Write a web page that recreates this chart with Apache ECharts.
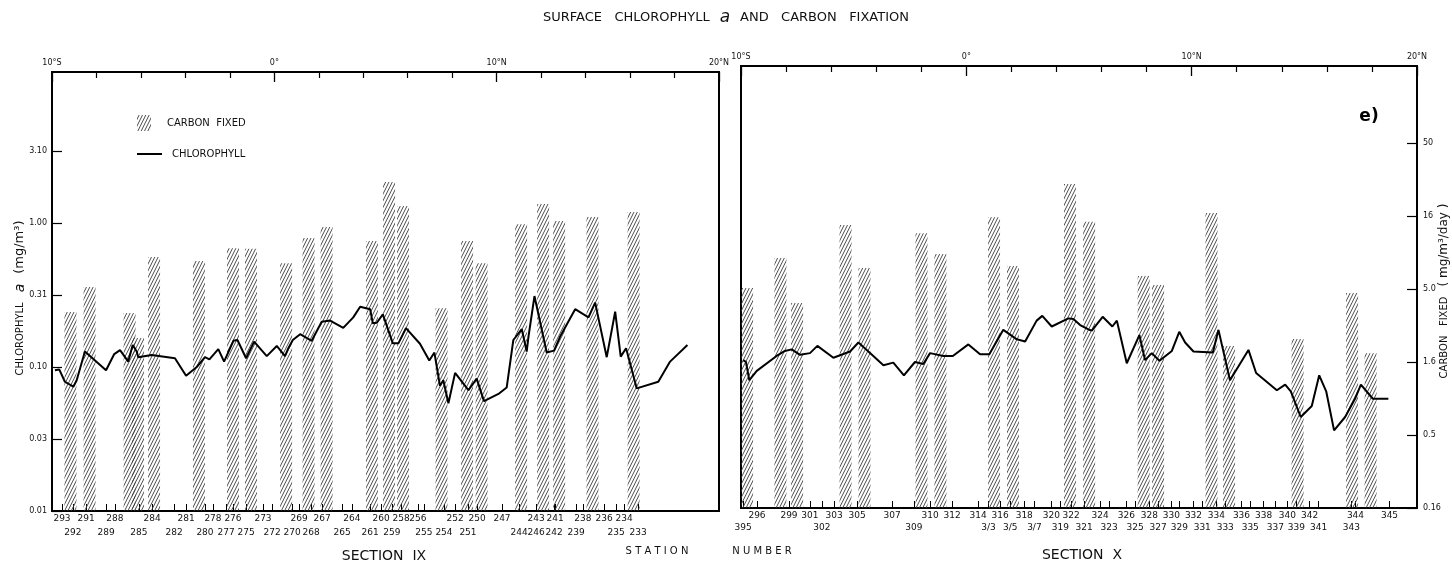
<!DOCTYPE html>
<html><head><meta charset="utf-8">
<script src="https://cdn.jsdelivr.net/npm/echarts@6/dist/echarts.min.js"></script>
<style>html,body{margin:0;padding:0;background:#fff}#c{width:1452px;height:567px}</style>
</head><body><div id="c"></div>
<script>
// ---------- tick labels ----------
const latTicks = [-10, 0, 10, 20];
const latTickLabels = ['10°S', '0°', '10°N', '20°N'];
const chlTicks = [0.01, 0.0316, 0.1, 0.316, 1, 3.16];
const chlTickLabels = ['0.01', '0.03', '0.10', '0.31', '1.00', '3.10'];
const carbonTicks = [0.16, 0.506, 1.6, 5.06, 16, 50.6];
const carbonTickLabels = ['0.16', '0.5', '1.6', '5.0', '16', '50'];

// ---------- Section IX ----------
const chlLatIX = [-9.87,-9.67,-9.42,-9.04,-8.89,-8.52,-7.57,-7.20,-6.94,-6.57,-6.49,-6.37,-6.19,-6.12,-5.52,-4.47,-3.97,-3.49,-3.12,-2.92,-2.52,-2.26,-1.84,-1.66,-1.27,-0.91,-0.34,0.11,0.48,0.63,0.83,1.16,1.68,2.13,2.51,3.10,3.55,3.86,4.31,4.43,4.61,4.88,5.33,5.58,5.92,6.55,6.97,7.20,7.45,7.60,7.83,8.13,8.73,9.10,9.43,10.08,10.45,10.75,11.13,11.35,11.43,11.70,12.25,12.58,12.85,13.53,14.13,14.43,14.95,15.33,15.58,15.82,16.30,17.27,17.80,18.58];
const chlIX = [0.095,0.096,0.079,0.073,0.081,0.128,0.095,0.123,0.131,0.109,0.107,0.142,0.128,0.117,0.121,0.115,0.087,0.100,0.117,0.113,0.133,0.109,0.152,0.154,0.115,0.150,0.119,0.140,0.119,0.135,0.154,0.169,0.152,0.206,0.210,0.187,0.221,0.262,0.252,0.201,0.203,0.232,0.146,0.146,0.186,0.145,0.111,0.126,0.074,0.081,0.056,0.091,0.069,0.083,0.058,0.065,0.072,0.154,0.183,0.128,0.162,0.311,0.126,0.130,0.162,0.252,0.221,0.280,0.117,0.242,0.118,0.135,0.071,0.079,0.109,0.142];
const carbonLatIX = [-9.17,-8.31,-6.51,-6.13,-5.41,-3.39,-1.86,-1.05,0.53,1.54,2.35,4.39,5.16,5.79,7.52,8.67,9.32,11.10,12.09,12.81,14.31,16.16];
const carbonIX = [3.86,5.75,3.8,2.54,9.3,8.7,10.7,10.6,8.4,12.6,15.0,12.0,30.8,21.0,4.1,12.0,8.4,15.7,21.7,16.5,17.6,19.1];
const stationsIXrow1 = ['293','291','288','284','281','278','276','273','269','267','264','260','258','256','252','250','247','243','241','238','236','234'];
const stationLatIXrow1 = [-9.55,-8.47,-7.17,-5.50,-3.97,-2.76,-1.86,-0.51,1.11,2.15,3.49,4.80,5.70,6.46,8.13,9.12,10.24,11.77,12.63,13.88,14.83,15.73];
const stationsIXrow2 = ['292','289','285','282','280','277','275','272','270','268','265','261','259','255','254','251','244','246','242','239','235','233'];
const stationLatIXrow2 = [-9.06,-7.57,-6.09,-4.51,-3.12,-2.17,-1.27,-0.10,0.80,1.65,3.05,4.31,5.29,6.73,7.63,8.71,11.01,11.77,12.58,13.57,15.37,16.36];

// ---------- Section X ----------
const chlLatX = [-9.90,-9.78,-9.63,-9.30,-8.42,-8.05,-7.75,-7.38,-6.94,-6.61,-5.90,-5.16,-4.79,-4.42,-3.68,-3.24,-2.77,-2.28,-1.91,-1.61,-1.02,-0.60,0.09,0.61,1.02,1.64,2.24,2.61,3.12,3.37,3.79,4.53,4.75,5.05,5.42,5.57,6.05,6.48,6.68,7.12,7.68,7.93,8.23,8.57,9.12,9.45,9.71,10.08,10.94,11.19,11.70,12.52,12.86,13.78,14.15,14.40,14.84,15.33,15.66,15.97,16.32,16.81,17.25,17.51,18.04,18.73];
const chlX = [0.103,0.100,0.075,0.087,0.110,0.119,0.122,0.112,0.115,0.129,0.107,0.118,0.136,0.121,0.095,0.099,0.081,0.100,0.097,0.115,0.110,0.110,0.132,0.113,0.113,0.166,0.143,0.138,0.192,0.207,0.175,0.199,0.197,0.179,0.167,0.164,0.204,0.175,0.192,0.098,0.153,0.103,0.115,0.102,0.119,0.161,0.136,0.118,0.116,0.166,0.075,0.121,0.084,0.064,0.070,0.063,0.042,0.050,0.081,0.063,0.034,0.042,0.056,0.070,0.056,0.056];
const carbonLatX = [-9.73,-8.25,-7.51,-5.36,-4.52,-1.99,-1.15,1.23,2.07,4.60,5.45,7.87,8.51,10.88,11.66,14.70,17.12,17.94];
const carbonX = [5.14,8.26,4.06,13.9,7.05,12.2,8.79,15.7,7.27,26.5,14.6,6.21,5.39,16.8,2.06,2.30,4.75,1.84];
const stationsXrow1 = ['296','299','301','303','305','307','310','312','314','316','318','320','322','324','326','328','330','332','334','336','338','340','342','344','345'];
const stationLatXrow1 = [-9.29,-7.87,-6.94,-5.87,-4.85,-3.29,-1.61,-0.63,0.52,1.50,2.57,3.77,4.65,5.94,7.10,8.12,9.10,10.08,11.10,12.21,13.19,14.25,15.23,17.27,18.78];
const stationsXrow2 = ['395','302','309','3/3','3/5','3/7','319','321','323','325','327','329','331','333','335','337','339','341','343'];
const stationLatXrow2 = [-9.91,-6.41,-2.33,0.98,1.95,3.02,4.17,5.23,6.34,7.49,8.51,9.45,10.47,11.49,12.60,13.71,14.65,15.63,17.09];

// ---------- helpers ----------
const zip = (a, b) => a.map((v, i) => [v, b[i]]);
function nearest(v, vals, labels, log) {
  let bi = 0, bd = Infinity;
  vals.forEach((t, i) => { const d = Math.abs(log ? Math.log(v / t) : v - t); if (d < bd) { bd = d; bi = i; } });
  return labels[bi];
}
function hatchCanvas() {
  const W = 10, H = 20;
  const c = document.createElement('canvas'); c.width = W; c.height = H;
  const g = c.getContext('2d'); g.strokeStyle = '#3a3a3a'; g.lineWidth = 0.9;
  g.beginPath();
  for (let k = -3; k <= 3; k++) { const dx = k * W / 3; g.moveTo(dx, H); g.lineTo(dx + W, 0); }
  g.stroke();
  return c;
}
const hatch = { image: hatchCanvas(), repeat: 'repeat' };
const FONT = 'DejaVu Sans';
const C0 = 0.16; // carbon axis minimum

const chlMaxIX = Math.pow(10, 439 / 144 - 2);
const chlMaxX = Math.pow(10, 442 / 146 - 2);
const AXLINE = { show: true, onZero: false, lineStyle: { color: '#000', width: 2 } };

function topAxis(g) {
  return {
    gridIndex: g, type: 'value', position: 'top', min: -10, max: 20, interval: 10,
    axisLine: AXLINE,
    axisTick: { inside: true, length: 10, lineStyle: { color: '#000', width: 1.3 } },
    minorTick: { show: true, splitNumber: 5, length: 6, lineStyle: { color: '#000', width: 1.2 } },
    axisLabel: { fontSize: 8, fontFamily: FONT, color: '#111', margin: 5,
      formatter: v => nearest(v, latTicks, latTickLabels, false) },
    splitLine: { show: false }, minorSplitLine: { show: false }
  };
}
function bottomAxis(g, allLats, rowLats, rowNames, margin, showLine) {
  return {
    gridIndex: g, type: 'value', position: 'bottom', min: -10, max: 20,
    axisLine: { show: showLine, onZero: false, lineStyle: { color: '#000', width: 2 } },
    axisTick: { show: showLine, customValues: allLats, inside: true, length: 7, lineStyle: { color: '#000', width: 1 } },
    axisLabel: { customValues: rowLats, hideOverlap: false, fontSize: 9, fontFamily: FONT, color: '#111', margin: margin,
      formatter: v => nearest(v, rowLats, rowNames, false) },
    splitLine: { show: false }
  };
}
function barSeries(xi, yi, lats, vals) {
  return {
    type: 'custom', xAxisIndex: xi, yAxisIndex: yi, data: zip(lats, vals), z: 2,
    renderItem: (params, api) => {
      const top = api.coord([api.value(0), api.value(1)]);
      const bot = api.coord([api.value(0), C0]);
      const cs = params.coordSys;
      let x0 = Math.max(top[0] - 6, cs.x), x1 = Math.min(top[0] + 6, cs.x + cs.width);
      return { type: 'rect', shape: { x: x0, y: top[1], width: x1 - x0, height: bot[1] - top[1] },
        style: { fill: hatch } };
    }
  };
}
function lineSeries(xi, yi, lats, vals) {
  return { type: 'line', xAxisIndex: xi, yAxisIndex: yi, data: zip(lats, vals), z: 5,
    showSymbol: false, symbol: 'none', lineStyle: { color: '#000', width: 2 }, itemStyle: { color: '#000' } };
}

const option = {
  animation: false,
  backgroundColor: '#fff',
  grid: [
    { left: 52, right: 1452 - 719, top: 72, bottom: 567 - 511, show: true, borderColor: '#000', borderWidth: 2 },
    { left: 741, right: 1452 - 1417, top: 66, bottom: 567 - 508, show: true, borderColor: '#000', borderWidth: 2 }
  ],
  xAxis: [
    topAxis(0),
    bottomAxis(0, stationLatIXrow1.concat(stationLatIXrow2), stationLatIXrow1, stationsIXrow1, 3, true),
    bottomAxis(0, [], stationLatIXrow2, stationsIXrow2, 17, false),
    topAxis(1),
    bottomAxis(1, stationLatXrow1.concat(stationLatXrow2), stationLatXrow1, stationsXrow1, 3, true),
    bottomAxis(1, [], stationLatXrow2, stationsXrow2, 15, false)
  ],
  yAxis: [
    { gridIndex: 0, type: 'log', logBase: 10, min: 0.01, max: chlMaxIX, position: 'left',
      axisLine: AXLINE,
      axisTick: { show: true, customValues: chlTicks, inside: true, length: 10, lineStyle: { color: '#000', width: 1.2 } },
      axisLabel: { customValues: chlTicks, fontSize: 8, fontFamily: FONT, color: '#111', margin: 5,
        formatter: v => nearest(v, chlTicks, chlTickLabels, true) },
      splitLine: { show: false } },
    { gridIndex: 0, type: 'log', logBase: 10, min: C0, max: 16 * chlMaxIX, position: 'right',
      axisLine: AXLINE,
      axisTick: { show: false }, axisLabel: { show: false }, splitLine: { show: false } },
    { gridIndex: 1, type: 'log', logBase: 10, min: 0.01, max: chlMaxX, position: 'left',
      axisLine: AXLINE,
      axisTick: { show: false }, axisLabel: { show: false }, splitLine: { show: false } },
    { gridIndex: 1, type: 'log', logBase: 10, min: C0, max: 16 * chlMaxX, position: 'right',
      axisLine: AXLINE,
      axisTick: { show: true, customValues: carbonTicks, inside: true, length: 10, lineStyle: { color: '#000', width: 1.2 } },
      axisLabel: { customValues: carbonTicks, fontSize: 8, fontFamily: FONT, color: '#111', margin: 6,
        formatter: v => nearest(v, carbonTicks, carbonTickLabels, true) },
      splitLine: { show: false } }
  ],
  series: [
    barSeries(0, 1, carbonLatIX, carbonIX),
    lineSeries(0, 0, chlLatIX, chlIX),
    barSeries(3, 3, carbonLatX, carbonX),
    lineSeries(3, 2, chlLatX, chlX)
  ],
  graphic: [
    { type: 'text', left: 'center', top: 9, style: {
      text: '{n|SURFACE   CHLOROPHYLL}   {i|a}   {n|AND   CARBON   FIXATION}',
      rich: { n: { fontSize: 13, fontFamily: FONT, fill: '#111' }, i: { fontSize: 17, fontStyle: 'italic', fontFamily: FONT, fill: '#111' } } } },
    { type: 'rect', shape: { x: 137, y: 115, width: 14, height: 16 }, style: { fill: hatch } },
    { type: 'text', x: 167, y: 123, style: { text: 'CARBON  FIXED', fontSize: 10, fontFamily: FONT, fill: '#111', verticalAlign: 'middle' } },
    { type: 'line', shape: { x1: 137, y1: 154, x2: 162, y2: 154 }, style: { stroke: '#000', lineWidth: 2 } },
    { type: 'text', x: 172, y: 154, style: { text: 'CHLOROPHYLL', fontSize: 10, fontFamily: FONT, fill: '#111', verticalAlign: 'middle' } },
    { type: 'text', x: 1369, y: 117, style: { text: 'e)', fontSize: 17, fontWeight: 'bold', fontFamily: FONT, fill: '#000', align: 'center', verticalAlign: 'middle' } },
    { type: 'text', x: 20, y: 298, rotation: Math.PI / 2, style: {
      text: '{n|CHLOROPHYLL}   {i|a}   {p|(mg/m³)}', align: 'center', verticalAlign: 'middle',
      rich: { n: { fontSize: 10, fontFamily: FONT, fill: '#111' }, i: { fontSize: 14, fontStyle: 'italic', fontFamily: FONT, fill: '#111' }, p: { fontSize: 13, fontFamily: FONT, fill: '#111' } } } },
    { type: 'text', x: 1444, y: 291, rotation: Math.PI / 2, style: {
      text: '{n|CARBON   FIXED}   {p|( mg/m³/day )}', align: 'center', verticalAlign: 'middle',
      rich: { n: { fontSize: 10, fontFamily: FONT, fill: '#111' }, p: { fontSize: 12, fontFamily: FONT, fill: '#111' } } } },
    { type: 'text', x: 384, y: 556, style: { text: 'SECTION  IX', fontSize: 14, fontFamily: FONT, fill: '#111', align: 'center', verticalAlign: 'middle' } },
    { type: 'text', x: 657, y: 551, style: { text: 'S T A T I O N', fontSize: 10, fontFamily: FONT, fill: '#111', align: 'center', verticalAlign: 'middle' } },
    { type: 'text', x: 762, y: 551, style: { text: 'N U M B E R', fontSize: 10, fontFamily: FONT, fill: '#111', align: 'center', verticalAlign: 'middle' } },
    { type: 'text', x: 1082, y: 555, style: { text: 'SECTION  X', fontSize: 14, fontFamily: FONT, fill: '#111', align: 'center', verticalAlign: 'middle' } }
  ]
};
const chart = echarts.init(document.getElementById('c'), null, { renderer: 'canvas' });
chart.setOption(option);
</script></body></html>
